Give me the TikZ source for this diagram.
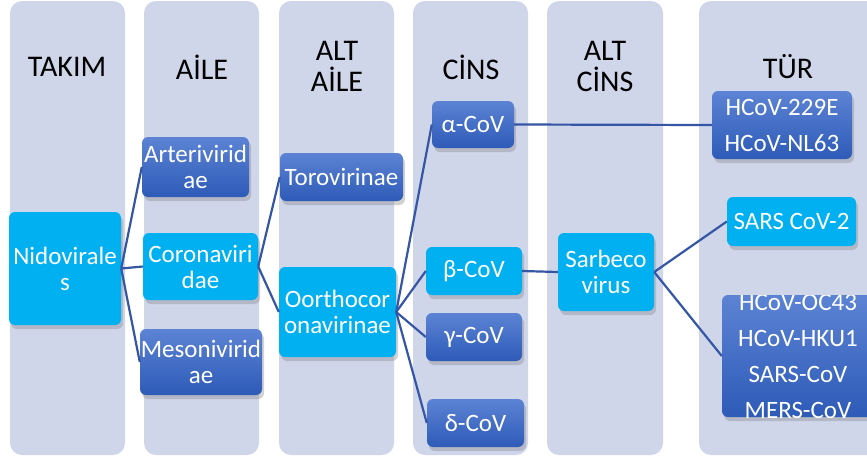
\documentclass[tikz,border=0pt]{standalone}
\usepackage{fontspec}
\setmainfont{Carlito}
\usetikzlibrary{shadows}
\definecolor{colbg}{RGB}{208,214,234}
\definecolor{cyanc}{RGB}{0,176,240}
\definecolor{bluetop}{RGB}{92,131,212}
\definecolor{bluebot}{RGB}{46,91,184}
\definecolor{linkc}{RGB}{52,86,164}
\tikzset{
  column/.style={fill=colbg, rounded corners=12pt},
  header/.style={font=\fontsize{30}{31}\selectfont, align=center, text=black, inner sep=0pt},
  boxbase/.style={rounded corners=6pt, text=white, align=center, inner sep=0pt,
    font=\fontsize{25}{26}\selectfont,
    drop shadow={shadow xshift=2pt, shadow yshift=-4pt, opacity=0.35}},
  cyanbox/.style={boxbase, fill=cyanc},
  bluebox/.style={boxbase, top color=bluetop, bottom color=bluebot},
  link/.style={draw=linkc, line width=2.2pt},
  wide/.style={font=\fontsize{25}{36}\selectfont}
}
\begin{document}
\begin{tikzpicture}[x=1pt,y=-1pt]
\clip (0,0) rectangle (867,459);
\fill[white] (0,0) rectangle (867,459);
% columns
\fill[column] (10,1) rectangle (125,455);
\fill[column] (144,1) rectangle (259,455);
\fill[column] (279,1) rectangle (394,455);
\fill[column] (413,1) rectangle (528,455);
\fill[column] (547,1) rectangle (663,455);
\fill[column] (699,1) rectangle (900,455);
% headers
\node[header] (h1) at (67,67) {TAKIM};
\node[header] (h2) at (202,67) {AİLE};
\node[header] (h3) at (337,66) {ALT\\AİLE};
\node[header] (h4) at (471,67) {CİNS};
\node[header] (h5) at (605,66) {ALT\\CİNS};
\node[header] (h6) at (788,67) {TÜR};
% nodes
\node[cyanbox, minimum width=112pt, minimum height=113pt] (nido) at (65,268.5) {Nidovirale\\s};
\node[bluebox, minimum width=107pt, minimum height=60pt] (arteri) at (195.5,167) {Arterivirid\\ae};
\node[cyanbox, minimum width=115pt, minimum height=67pt] (corona) at (200.5,266.5) {Coronaviri\\dae};
\node[bluebox, minimum width=122pt, minimum height=66pt] (meso) at (201,362) {Mesonivirid\\ae};
\node[bluebox, minimum width=123pt, minimum height=48pt] (toro) at (341.5,177) {Torovirinae};
\node[cyanbox, minimum width=117pt, minimum height=90pt] (oortho) at (337.5,312) {Oorthocor\\onavirinae};
\node[bluebox, minimum width=82pt, minimum height=47pt] (alpha) at (473,124.5) {α-CoV};
\node[cyanbox, minimum width=96pt, minimum height=48pt] (beta) at (474,271) {β-CoV};
\node[bluebox, minimum width=96pt, minimum height=48pt] (gamma) at (474,337) {γ-CoV};
\node[bluebox, minimum width=97pt, minimum height=48pt] (delta) at (475.5,423) {δ-CoV};
\node[cyanbox, minimum width=96pt, minimum height=78pt] (sarb) at (606,272) {Sarbeco\\virus};
\node[bluebox, wide, minimum width=140pt, minimum height=68pt] (hcov) at (782,125) {HCoV-229E\\HCoV-NL63};
\node[cyanbox, minimum width=129pt, minimum height=49pt] (sars2) at (791.5,221.5) {SARS CoV-2};
\node[bluebox, minimum width=152pt, minimum height=122pt] (other) at (798,356) {};
\begin{scope}
\clip[rounded corners=6pt] (other.north west) rectangle (other.south east);
\node[text=white, align=center, inner sep=0pt, wide] (othertext) at (798,356) {HCoV-OC43\\HCoV-HKU1\\SARS-CoV\\MERS-CoV};
\end{scope}
% connectors
\draw[link] (nido.east) -- (arteri.west);
\draw[link] (nido.east) -- (corona.west);
\draw[link] (nido.east) -- (meso.west);
\draw[link] (corona.east) -- (toro.west);
\draw[link] (corona.east) -- (oortho.west);
\draw[link] (oortho.east) -- (alpha.west);
\draw[link] (oortho.east) -- (beta.west);
\draw[link] (oortho.east) -- (gamma.west);
\draw[link] (oortho.east) -- (delta.west);
\draw[link] (alpha.east) -- (hcov.west);
\draw[link] (beta.east) -- (sarb.west);
\draw[link] (sarb.east) -- (sars2.west);
\draw[link] (sarb.east) -- (other.west);
\end{tikzpicture}
\end{document}
